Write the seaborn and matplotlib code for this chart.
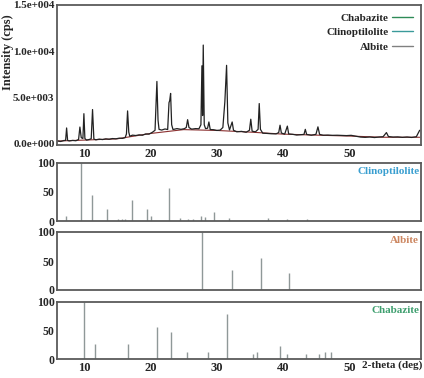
import numpy as np
import pandas as pd
import seaborn as sns
import matplotlib.pyplot as plt
from matplotlib.lines import Line2D
from matplotlib.ticker import FuncFormatter

two_theta = [6.0, 6.5, 7.0, 7.25, 7.4, 7.55, 7.8, 8.3, 8.8, 9.2, 9.4, 9.6, 9.85, 10.0, 10.15,
             10.4, 10.8, 11.1, 11.3, 11.5, 11.8, 12.3, 12.8, 13.3, 13.8, 14.3, 14.8, 15.3,
             15.8, 16.2, 16.4, 16.57, 16.75, 16.9, 17.3, 17.8, 18.3, 18.8, 19.3, 19.8, 20.3,
             20.7, 20.98, 21.15, 21.3, 21.7, 22.2, 22.6, 22.8, 22.9, 23.04, 23.2, 23.4, 24.0,
             24.6, 25.1, 25.4, 25.6, 25.8, 26.2, 26.8, 27.3, 27.6, 27.75, 27.85, 27.95, 28.1,
             28.3, 28.6, 28.8, 29.0, 29.5, 30.0, 30.5, 30.9, 31.2, 31.46, 31.65, 31.9, 32.3,
             32.5, 33.0, 33.7, 34.4, 34.9, 35.1, 35.3, 35.8, 36.2, 36.37, 36.55, 36.9, 37.5,
             38.2, 38.9, 39.3, 39.5, 39.7, 40.2, 40.6, 40.8, 41.4, 42.0, 42.6, 43.1, 43.3,
             43.5, 44.2, 44.9, 45.2, 45.45, 46.0, 46.7, 47.4, 48.1, 48.8, 49.5, 50.2, 50.9,
             51.6, 52.3, 53.0, 53.7, 54.4, 55.0, 55.5, 55.8, 56.5, 57.2, 57.9, 58.6, 59.3,
             60.0, 60.5]
intensity = [250, 180, 290, 300, 1650, 300, 240, 300, 260, 400, 1750, 600, 500, 3200, 500,
             330, 400, 480, 3650, 450, 360, 440, 390, 470, 420, 500, 470, 540,
             520, 600, 1000, 3500, 1200, 750, 870, 830, 900, 860, 1000, 980, 1180,
             1400, 6700, 2500, 1500, 1420, 1540, 1480, 4400, 4600, 5400, 2000, 1480, 1580,
             1500, 1570, 1700, 2550, 1700, 1520, 1580, 1560, 2000, 8400, 3000, 10650, 2000,
             1580, 1620, 2300, 1480, 1460, 1380, 1420, 1700, 4500, 8450, 2200, 1430, 2300,
             1400, 1230, 1280, 1180, 1400, 2600, 1300, 1230, 1500, 4300, 1500, 1080, 1060,
             1020, 1010, 1150, 1950, 1100, 980, 1850, 1000, 960, 880, 920, 950, 1500,
             950, 860, 960, 1770, 950, 860, 880, 850, 860, 840, 820, 850, 760,
             660, 630, 670, 610, 670, 700, 1150, 720, 660, 680, 630, 670, 620,
             700, 1400]

# background curve
bg_theta = [6.0, 10.0, 15.0, 20.0, 25.0, 30.0, 35.0, 40.0, 45.0, 50.0, 55.0, 60.5]
bg_int = [230, 330, 470, 1050, 1470, 1380, 1200, 980, 870, 770, 640, 640]

# reference sticks (relative intensity)
clino_pos = [7.3, 9.55, 11.16, 13.46, 15.16, 15.67, 16.17, 17.22, 19.43, 20.12, 22.78, 24.44,
             25.59, 26.39, 27.55, 28.24, 29.6, 31.8, 37.67, 40.5, 43.5]
clino_int = [9, 100, 45, 21, 3, 3, 3, 36, 21, 9, 57, 6, 4, 4, 8, 7, 16, 6, 5, 4, 3]
albite_pos = [27.79, 32.26, 36.57, 40.87]
albite_int = [100, 34, 55, 30]
chab_pos = [10.05, 11.65, 16.67, 20.93, 23.13, 25.53, 28.7, 31.55, 35.36, 36.1, 39.47, 40.62,
            43.43, 45.4, 46.3, 47.1]
chab_int = [100, 26, 27, 55, 47, 12, 12, 78, 9, 13, 23, 9, 9, 9, 13, 12]

sns.set_theme(style="white")
plt.rcParams['font.family'] = ['Liberation Serif', 'DejaVu Serif']
plt.rcParams['font.weight'] = 'bold'

fig = plt.figure(figsize=(4.24, 3.78), dpi=100)
W, H = 424, 378
left, right = 57.3 / W, 421 / W
xlim = (6.0, 60.7)


def add_ax(top_px, bot_px):
    return fig.add_axes([left, 1 - bot_px / H, right - left, (bot_px - top_px) / H])


def style(ax, ysize):
    for s in ax.spines.values():
        s.set_color('#5a5a5a')
        s.set_linewidth(1.3)
    ax.tick_params(length=0, pad=2)
    ax.tick_params(axis='x', labelsize=9)
    ax.tick_params(axis='y', labelsize=ysize)
    for lbl in ax.get_xticklabels() + ax.get_yticklabels():
        lbl.set_fontweight('bold')
    ax.set_xlim(*xlim)


def exp_fmt(v, pos):
    m, e = f"{v:.1e}".split('e')
    return f"{m}e{int(e):+04d}"


# main pattern
ax0 = add_ax(5, 145)
sns.lineplot(x=bg_theta, y=bg_int, ax=ax0, color='#8b3030', linewidth=0.8)
sns.lineplot(x=two_theta, y=intensity, ax=ax0, color='#222222', linewidth=0.9)
ax0.set_ylim(-200, 15000)
ax0.set_yticks([0, 5000, 10000, 15000])
ax0.yaxis.set_major_formatter(FuncFormatter(exp_fmt))
ax0.set_xticks([10, 20, 30, 40, 50])
ax0.set_xlabel('')
ax0.set_ylabel('Intensity (cps)', fontsize=9, fontweight='bold')
ax0.yaxis.set_label_coords(-0.118, 0.66)
style(ax0, 8)
handles = [Line2D([], [], color='#2e8b57', lw=1.0),
           Line2D([], [], color='#3a9a9a', lw=1.0),
           Line2D([], [], color='#808080', lw=1.0)]
ax0.legend(handles, ['Chabazite', 'Clinoptilolite', 'Albite'], loc='upper right',
           markerfirst=False, frameon=False, handlelength=1.9, handletextpad=0.3,
           labelspacing=0.45, borderaxespad=0.4, borderpad=0.3,
           prop={'weight': 'bold', 'size': 8})

panels = [
    (163, 221, clino_pos, clino_int, 'Clinoptilolite', '#3a9fd0'),
    (232, 290, albite_pos, albite_int, 'Albite', '#cc8660'),
    (301.7, 359, chab_pos, chab_int, 'Chabazite', '#3f9f6f'),
]
for i, (t, b, pos, val, name, col) in enumerate(panels):
    ax = add_ax(t, b)
    ax.vlines(pos, 0, val, color='#8f9898', linewidth=1.0)
    ax.set_ylim(0, 100)
    ax.set_yticks([0, 50, 100])
    ax.set_xticks([10, 20, 30, 40, 50])
    if i < 2:
        ax.set_xticklabels([])
    style(ax, 8.5)
    ax.text(0.995, 0.93, name, transform=ax.transAxes, ha='right', va='top',
            color=col, fontsize=8, fontweight='bold')

fig.text(0.996, 0.02, '2-theta (deg)', ha='right', va='bottom', fontsize=8, fontweight='bold')

fig.savefig('out.png', dpi=100)
